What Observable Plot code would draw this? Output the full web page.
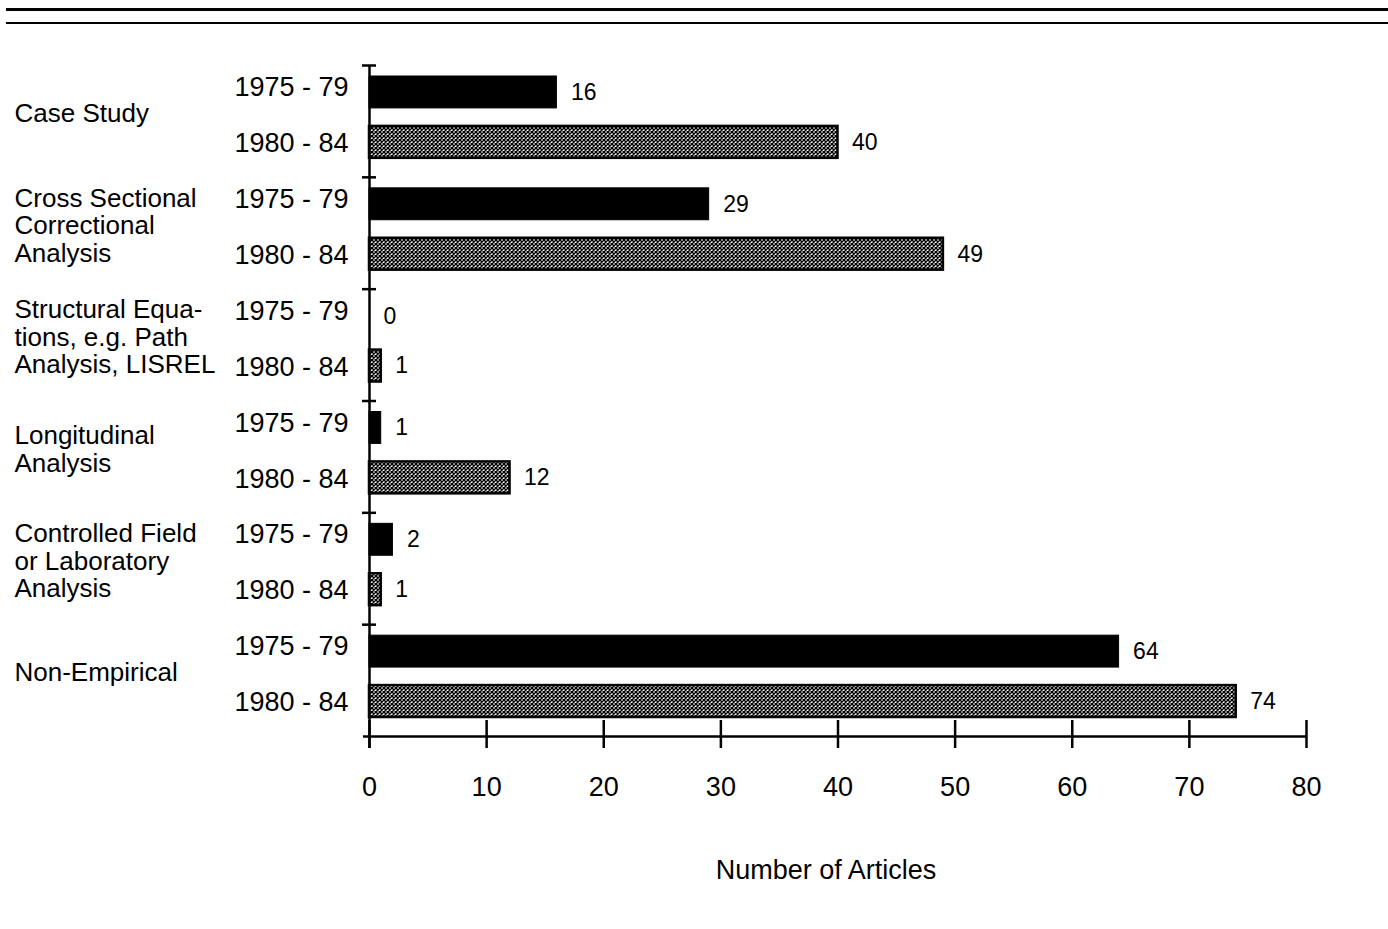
<!DOCTYPE html>
<html><head><meta charset="utf-8">
<script src="https://cdn.jsdelivr.net/npm/d3@7"></script>
<script src="https://cdn.jsdelivr.net/npm/@observablehq/plot@0.6"></script>
<style>
body{margin:0;background:#fff;font-family:"Liberation Sans",Arial,sans-serif;}
#wrap{position:relative;width:1388px;height:929px;overflow:hidden;}
.rule{position:absolute;left:6px;right:0;background:#000;}
#chart svg{display:block;}
</style></head><body>
<div id="wrap"><div id="chart"></div><div class="rule" style="top:8px;height:3px"></div><div class="rule" style="top:22px;height:2px"></div></div>
<script>
const groups = ["Case Study", "Cross Sectional\nCorrectional\nAnalysis", "Structural Equa-\ntions, e.g. Path\nAnalysis, LISREL", "Longitudinal\nAnalysis", "Controlled Field\nor Laboratory\nAnalysis", "Non-Empirical"];
const periods = ["1975 - 79", "1980 - 84"];
const values1975 = [16, 29, 0, 1, 2, 64];
const values1980 = [40, 49, 1, 12, 1, 74];
const xTicks = [0, 10, 20, 30, 40, 50, 60, 70, 80];
const xLabel = "Number of Articles";

const rows = groups.flatMap((g, i) => [
  {group: g, gi: i, period: periods[0], pi: 0, value: values1975[i]},
  {group: g, gi: i, period: periods[1], pi: 1, value: values1980[i]}
]);
rows.forEach(r => r.pos = r.gi * periods.length + r.pi);
const first = rows.filter(d => d.pi === 0);
const second = rows.filter(d => d.pi === 1);
const groupRows = groups.map((g, i) => ({label: g, start: i * periods.length, mid: i * periods.length + periods.length / 2}));
const nRows = rows.length;

const chart = Plot.plot({
  width: 1388, height: 929,
  marginLeft: 369, marginRight: 82, marginTop: 65, marginBottom: 193,
  x: {domain: [0, 80], axis: null},
  y: {domain: [0, nRows], reverse: true, axis: null},
  style: {fontFamily: "'Liberation Sans', Arial, sans-serif", fontSize: "27px", color: "black", background: "white"},
  marks: [
    Plot.rectX(first, {x1: 0, x2: "value", y1: "pos", y2: d => d.pos + 1, insetTop: 11, insetBottom: 13, fill: "black", stroke: "black", strokeWidth: 1}),
    Plot.rectX(second, {x1: 0, x2: "value", y1: "pos", y2: d => d.pos + 1, insetTop: 5, insetBottom: 19, fill: "url(#hatch)", stroke: "black", strokeWidth: 2.5}),
    Plot.ruleX([0], {y1: 0, y2: nRows, insetBottom: -12, strokeWidth: 2.5}),
    Plot.ruleY(groupRows, {y: "start", x1: 0, x2: 0, insetLeft: -7, insetRight: -7, strokeWidth: 2.5}),
    Plot.ruleY([nRows], {x1: 0, x2: 80, insetLeft: -6, strokeWidth: 2.5}),
    Plot.ruleX(xTicks, {x: d => d, y1: nRows, y2: nRows, insetTop: -16, insetBottom: -12, strokeWidth: 2.5}),
    Plot.text(first, {x: 0, y: d => d.pos + 0.5, text: "period", textAnchor: "end", dx: -21, dy: -6, fontSize: 27}),
    Plot.text(second, {x: 0, y: d => d.pos + 0.5, text: "period", textAnchor: "end", dx: -21, dy: -6, fontSize: 27}),
    Plot.text(groupRows, {x: 0, y: "mid", text: "label", textAnchor: "start", dx: -355, dy: -8, lineHeight: 1.06, fontSize: 26}),
    Plot.text(first, {x: "value", y: d => d.pos + 0.5, text: d => String(d.value), textAnchor: "start", dx: 14, dy: -1, fontSize: 23}),
    Plot.text(second, {x: "value", y: d => d.pos + 0.5, text: d => String(d.value), textAnchor: "start", dx: 14, dy: -7, fontSize: 23}),
    Plot.text(xTicks, {x: d => d, y: nRows, dy: 51, text: d => String(d), fontSize: 27}),
    Plot.text([xLabel], {frameAnchor: "bottom", text: d => d, dx: -12, dy: 142, fontSize: 27})
  ]
});
const defs = d3.select(chart).insert("defs", ":first-child");
const pat = defs.append("pattern").attr("id", "hatch").attr("width", 4).attr("height", 4).attr("patternUnits", "userSpaceOnUse");
pat.append("rect").attr("width", 4).attr("height", 4).attr("fill", "#fff");
pat.append("path").attr("d", "M0,0L4,4M4,0L0,4").attr("stroke", "#000").attr("stroke-width", 1.4);
document.getElementById("chart").appendChild(chart);
</script>
</body></html>
